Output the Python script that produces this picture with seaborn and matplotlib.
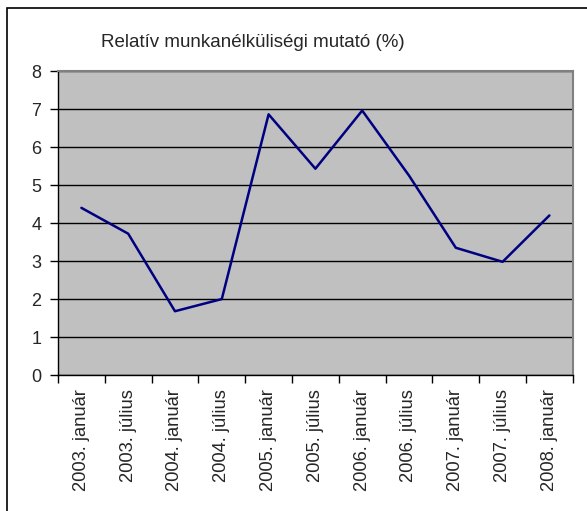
import matplotlib
matplotlib.use('Agg')
import matplotlib.pyplot as plt
import seaborn as sns
import numpy as np
from matplotlib.patches import Rectangle

# chart data
periods = ['2003. január', '2003. július', '2004. január', '2004. július',
           '2005. január', '2005. július', '2006. január', '2006. július',
           '2007. január', '2007. július', '2008. január']
rate = [4.4, 3.72, 1.68, 2.0, 6.86, 5.43, 6.96, 5.25, 3.35, 2.98, 4.2]

sns.set_style('white')
plt.rcParams['font.family'] = ['Liberation Sans', 'DejaVu Sans']

fig = plt.figure(figsize=(5.87, 5.11), dpi=100)
ax = fig.add_axes([0.0988, 0.266, 0.877, 0.595])

x = np.arange(len(periods))
sns.lineplot(x=x, y=rate, ax=ax, color='#000080', linewidth=1.8, sort=False)

ax.set_facecolor('#C0C0C0')
ax.set_xlim(-0.5, len(periods) - 0.5)
ax.set_ylim(0, 8)
ax.set_yticks(range(0, 9))
ax.yaxis.grid(True, color='black', linewidth=1)
ax.set_axisbelow(True)

ax.set_xticks(x)
ax.set_xticklabels(periods, rotation=90, fontsize=13.2)
ax.set_xticks(np.arange(-0.5, len(periods)), minor=True)
ax.tick_params(axis='x', which='major', length=0, pad=10)
ax.tick_params(axis='x', which='minor', length=6, width=1, color='black', direction='out', bottom=True)
ax.tick_params(axis='y', length=6, width=1, color='black', direction='out', left=True, labelsize=13, pad=6)

for side in ['top', 'right']:
    ax.spines[side].set_color('#808080')
    ax.spines[side].set_linewidth(1.5)
for side in ['left', 'bottom']:
    ax.spines[side].set_color('black')
    ax.spines[side].set_linewidth(1)

fig.text(0.431, 0.916, 'Relatív munkanélküliségi mutató (%)', ha='center', va='center', fontsize=13.5)

fig.patches.append(Rectangle((0.012, -0.01), 0.99, 0.995, transform=fig.transFigure,
                             fill=False, edgecolor='black', linewidth=1.2))

plt.savefig('out.png', dpi=100)
